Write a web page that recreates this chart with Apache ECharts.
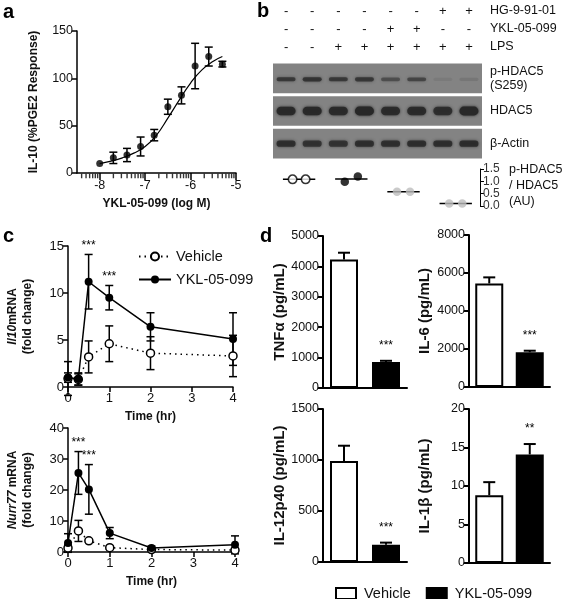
<!DOCTYPE html>
<html><head><meta charset="utf-8">
<script src="https://cdn.jsdelivr.net/npm/echarts@6/dist/echarts.min.js"></script>
<style>html,body{margin:0;padding:0;background:#fff}#c{width:575px;height:599px}</style>
</head><body><div id="c"></div>
<script>
// ---------- Panel a ----------
const aLogConc = [-8, -7.7, -7.4, -7.1, -6.8, -6.5, -6.2, -5.9, -5.6, -5.3];
const aIL10    = [10, 16, 19, 28, 40, 70, 82, 113, 123, 115];
const aIL10Err = [0, 6, 7, 10, 6, 8, 9, 24, 10, 3];
const aFitX = [-8, -7.75, -7.5, -7.25, -7, -6.75, -6.5, -6.25, -6, -5.75, -5.5, -5.3];
const aFitY = [10, 12.5, 16, 21, 28, 40, 58, 77, 95, 109, 118, 123];
const aXTicks = [-8, -7, -6, -5];
const aYTicks = [0, 50, 100, 150];

// ---------- Panel b ----------
const bLanes = ['1','2','3','4','5','6','7','8'];
const bTreatments = ['HG-9-91-01', 'YKL-05-099', 'LPS'];
const bHG  = ['-','-','-','-','-','-','+','+'];
const bYKL = ['-','-','-','-','+','+','-','-'];
const bLPS = ['-','-','+','+','+','+','+','+'];
const bBlotRows = ['p-HDAC5\n(S259)', 'HDAC5', 'β-Actin'];
const bPHDAC5 = [0.72, 0.78, 0.72, 0.74, 0.5, 0.58, 0.08, 0.12];
const bHDAC5  = [0.95, 0.95, 0.92, 1.0, 0.9, 0.9, 0.85, 1.0];
const bActin  = [0.85, 0.8, 0.78, 0.85, 0.85, 0.85, 0.85, 0.88];
const bRatio = [[1.08, 1.08], [0.98, 1.2], [0.58, 0.58], [0.1, 0.1]];
const bRatioTicks = [0, 0.5, 1.0, 1.5];

// ---------- Panel c ----------
const cTime = [0, 0.25, 0.5, 1, 2, 4];
const cIl10Veh    = [0.9, 0.8, 3.2, 4.6, 3.6, 3.3];
const cIl10VehErr = [1.8, 0.6, 1.7, 1.9, 1.75, 2.2];
const cIl10YKL    = [1.0, 0.85, 11.2, 9.5, 6.4, 5.1];
const cIl10YKLErr = [0.5, 0.65, 2.9, 1.3, 1.5, 2.8];
const cIl10Sig    = ['', '', '***', '***', '', ''];
const cNurrVeh    = [1.3, 6.8, 3.6, 1.4, 0.8, 0.6];
const cNurrVehErr = [1.0, 3.4, 0.5, 0.5, 0.3, 0.5];
const cNurrYKL    = [2.9, 25.5, 20.2, 6.1, 1.3, 2.3];
const cNurrYKLErr = [3.0, 6.9, 8.0, 1.8, 0.6, 2.9];
const cNurrSig    = ['', '***', '***', '', '', ''];

// ---------- Panel d ----------
const dGroups = ['Vehicle', 'YKL-05-099'];
const dTNF  = [4230, 855],  dTNFErr  = [220, 40];
const dIL6  = [5450, 1830], dIL6Err  = [320, 80];
const dIL12 = [990, 170],   dIL12Err = [150, 20];
const dIL1b = [8.8, 14.1],  dIL1bErr = [1.7, 1.35];
const dSig  = ['***', '***', '***', '**'];

// ================= build =================
const FF = '"Liberation Sans", Arial, Helvetica, sans-serif';
const TXT = '#111';
function merge(a, b) {
  const o = Array.isArray(a) ? a.slice() : Object.assign({}, a);
  for (const k in b) {
    if (b[k] && typeof b[k] === 'object' && !Array.isArray(b[k]) && a[k] && typeof a[k] === 'object' && !Array.isArray(a[k])) o[k] = merge(a[k], b[k]);
    else o[k] = b[k];
  }
  return o;
}
const grid = [], xAxis = [], yAxis = [], series = [];
function addGrid(g) { grid.push(g); return grid.length - 1; }
function addX(o) { xAxis.push(o); return xAxis.length - 1; }
function addY(o) { yAxis.push(o); return yAxis.length - 1; }
const plain = v => String(v);
function baseAxis(gi, lw, fs, extra) {
  return merge({
    gridIndex: gi, splitLine: { show: false },
    axisLine: { show: true, onZero: false, lineStyle: { color: '#000', width: lw } },
    axisTick: { show: true, length: 5, lineStyle: { color: '#000', width: lw } },
    axisLabel: { color: TXT, fontFamily: FF, fontSize: fs, margin: 4, formatter: plain },
    nameLocation: 'middle',
    nameTextStyle: { fontFamily: FF, fontWeight: 'bold', fontSize: 12, color: TXT }
  }, extra || {});
}
function errSeries(xi, yi, pts, labels, opt) {
  opt = opt || {};
  const cap = opt.cap || 4, lw = opt.lw || 1.5, off = opt.off || 10, fs = opt.fs || 12;
  return {
    type: 'custom', xAxisIndex: xi, yAxisIndex: yi, silent: true, z: opt.z || 2,
    data: pts,
    renderItem: function (params, api) {
      const x = api.value(0), y = api.value(1), up = api.value(2), dn = api.value(3);
      const p = api.coord([x, y]), t = api.coord([x, y + up]), b = api.coord([x, y - dn]);
      const st = { stroke: '#000', lineWidth: lw };
      const ch = [];
      if (up > 0) {
        ch.push({ type: 'line', shape: { x1: p[0], y1: p[1], x2: t[0], y2: t[1] }, style: st });
        ch.push({ type: 'line', shape: { x1: t[0] - cap, y1: t[1], x2: t[0] + cap, y2: t[1] }, style: st });
      }
      if (dn > 0) {
        ch.push({ type: 'line', shape: { x1: p[0], y1: p[1], x2: b[0], y2: b[1] }, style: st });
        ch.push({ type: 'line', shape: { x1: b[0] - cap, y1: b[1], x2: b[0] + cap, y2: b[1] }, style: st });
      }
      const lbl = labels ? labels[params.dataIndex] : '';
      if (lbl) ch.push({ type: 'text', x: t[0], y: t[1] - off, style: { text: lbl, fontFamily: FF, fontSize: fs, fill: '#000', align: 'center', verticalAlign: 'middle' } });
      return { type: 'group', children: ch };
    }
  };
}

// ---- Panel a ----
const gA = addGrid({ left: 77, top: 31, width: 159, height: 142 });
const minorA = [];
[-9, -8, -7, -6].forEach(d => { for (let k = 2; k <= 9; k++) { const v = d + Math.log10(k); if (v > -8.5 && v < -5) minorA.push(v); } });
const xA = addX(baseAxis(gA, 1.5, 12.5, {
  type: 'value', min: -8.5, max: -5, position: 'bottom',
  axisTick: { length: 7, customValues: aXTicks }, axisLabel: { customValues: aXTicks, margin: 6 },
  name: 'YKL-05-099 (log M)', nameGap: 25
}));
const yA = addY(baseAxis(gA, 1.5, 12.5, {
  type: 'value', min: 0, max: 150, interval: 50,
  name: 'IL-10 (%PGE2 Response)', nameGap: 37
}));
// log-decade minor ticks drawn as thin rect symbols hanging under the axis
series.push({ type: 'scatter', xAxisIndex: xA, yAxisIndex: yA, silent: true, clip: false, z: 6,
  data: minorA.map(v => [v, 0]), symbol: 'rect', symbolSize: [1.4, 4.5], symbolOffset: [0, 3],
  itemStyle: { color: '#000' } });
series.push(errSeries(xA, yA, aLogConc.map((x, i) => [x, aIL10[i], aIL10Err[i], aIL10Err[i]]), null, { cap: 4, lw: 1.5 }));
series.push({ type: 'scatter', xAxisIndex: xA, yAxisIndex: yA, data: aLogConc.map((x, i) => [x, aIL10[i]]), symbolSize: 7, itemStyle: { color: '#000' }, z: 4, silent: true });
series.push({ type: 'line', xAxisIndex: xA, yAxisIndex: yA, data: aFitX.map((x, i) => [x, aFitY[i]]), smooth: true, showSymbol: false, lineStyle: { color: '#000', width: 1.2 }, z: 3, silent: true });

// ---- Panel b: treatment table ----
const gB0 = addGrid({ left: 273, top: 2, width: 209, height: 54 });
const xB0 = addX({ type: 'category', gridIndex: gB0, data: bLanes, show: false });
const yB0 = addY({ type: 'category', gridIndex: gB0, data: bTreatments, inverse: true, position: 'right',
  axisLine: { show: false }, axisTick: { show: false }, axisLabel: { color: TXT, fontFamily: FF, fontSize: 12.5, margin: 8 } });
const signRows = [bHG, bYKL, bLPS];
const signData = []; signRows.forEach((row, r) => row.forEach((s, l) => signData.push([l, r])));
series.push({ type: 'custom', xAxisIndex: xB0, yAxisIndex: yB0, silent: true, data: signData,
  renderItem: function (params, api) {
    const l = api.value(0), r = api.value(1); const c = api.coord([l, r]);
    return { type: 'text', x: c[0], y: c[1], style: { text: signRows[r][l], fontFamily: FF, fontSize: 13, fill: TXT, align: 'center', verticalAlign: 'middle' } };
  } });

// ---- Panel b: blot ----
const gB1 = addGrid({ left: 273, top: 62, width: 209, height: 98 });
const xB1 = addX({ type: 'category', gridIndex: gB1, data: bLanes, show: false });
const yB1 = addY({ type: 'category', gridIndex: gB1, data: bBlotRows, inverse: true, position: 'right',
  axisLine: { show: false }, axisTick: { show: false }, axisLabel: { color: TXT, fontFamily: FF, fontSize: 12.5, margin: 8, lineHeight: 14, align: 'left' } });
series.push({ type: 'custom', xAxisIndex: xB1, yAxisIndex: yB1, silent: true, z: 1, data: bBlotRows.map((_, r) => [0, r]),
  renderItem: function (params, api) {
    const c = api.coord([0, api.value(1)]); const h = api.size([1, 1])[1]; const cs = params.coordSys;
    return { type: 'rect', shape: { x: cs.x, y: c[1] - h / 2 + 1.5, width: cs.width, height: h - 3 }, style: { fill: '#838383' } };
  } });
const bandRows = [bPHDAC5, bHDAC5, bActin];
const bandThick = [4, 8, 6];
const bandData = []; bandRows.forEach((row, r) => row.forEach((v, l) => bandData.push([l, r, v])));
series.push({ type: 'custom', xAxisIndex: xB1, yAxisIndex: yB1, silent: true, z: 2, data: bandData,
  renderItem: function (params, api) {
    const l = api.value(0), r = api.value(1), v = api.value(2); const c = api.coord([l, r]);
    const th = bandThick[r] * (0.8 + 0.3 * v), w = 19;
    const col = 'rgba(40,40,40,' + v + ')';
    return { type: 'rect', shape: { x: c[0] - w / 2, y: c[1] - th / 2 + (r === 0 ? 1 : 0), width: w, height: th, r: th / 2 },
      style: { fill: col, shadowBlur: 3, shadowColor: col } };
  } });

// ---- Panel b: quantification ----
const gB2 = addGrid({ left: 273, top: 169, width: 207, height: 37 });
const xB2 = addX({ type: 'value', gridIndex: gB2, min: -0.5, max: 7.43, show: false });
const yB2 = addY(baseAxis(gB2, 1, 12, { type: 'value', min: 0, max: 1.5, interval: 0.5, position: 'right',
  axisTick: { length: 4 }, axisLabel: { formatter: v => v.toFixed(1), margin: 3, color: '#333', fontSize: 12 } }));
const qStyles = [
  { color: '#fff', borderColor: '#000', borderWidth: 1.5 },
  { color: '#000' },
  { color: '#bdbdbd' },
  { color: '#bdbdbd' }
];
bRatio.forEach((vals, g) => {
  const c = 2 * g + 0.5;
  const mean = vals.reduce((s, v) => s + v, 0) / vals.length;
  series.push({ type: 'line', xAxisIndex: xB2, yAxisIndex: yB2, data: [[c - 0.62, mean], [c + 0.62, mean]], showSymbol: false, lineStyle: { color: '#000', width: 1.5 }, z: 2, silent: true });
  series.push({ type: 'scatter', xAxisIndex: xB2, yAxisIndex: yB2, data: [[c - 0.25, vals[0]], [c + 0.25, vals[1]]], symbolSize: 8.5, itemStyle: qStyles[g], z: 3, silent: true });
});

// ---- Panel c ----
function cPanel(grid0, yMax, yInt, yName, veh, vehErr, ykl, yklErr, sig) {
  const gi = addGrid(grid0);
  const xi = addX(baseAxis(gi, 1.5, 13, { type: 'value', min: 0, max: 4, interval: 1, name: 'Time (hr)', nameGap: 24, axisLabel: { margin: 5 } }));
  const yi = addY(baseAxis(gi, 1.5, 13, { type: 'value', min: 0, max: yMax, interval: yInt, name: yName, nameGap: 33,
    nameTextStyle: { lineHeight: 15, rich: { i: { fontStyle: 'italic', fontWeight: 'bold', fontFamily: FF, fontSize: 12 } } } }));
  series.push(errSeries(xi, yi, cTime.map((t, i) => [t, veh[i], vehErr[i], vehErr[i]]), null, { cap: 4, lw: 1.5, z: 2 }));
  series.push(errSeries(xi, yi, cTime.map((t, i) => [t, ykl[i], yklErr[i], yklErr[i]]), sig, { cap: 4, lw: 1.5, z: 2, off: 9, fs: 12 }));
  series.push({ type: 'line', name: 'Vehicle ', xAxisIndex: xi, yAxisIndex: yi, data: cTime.map((t, i) => [t, veh[i]]), symbol: 'circle', symbolSize: 8, showSymbol: true, clip: false,
    lineStyle: { color: '#000', width: 1.5, type: [1.5, 4] }, itemStyle: { color: '#fff', borderColor: '#000', borderWidth: 1.5 }, z: 4, silent: true });
  series.push({ type: 'line', name: 'YKL-05-099 ', xAxisIndex: xi, yAxisIndex: yi, data: cTime.map((t, i) => [t, ykl[i]]), symbol: 'circle', symbolSize: 8, showSymbol: true, clip: false,
    lineStyle: { color: '#000', width: 1.5 }, itemStyle: { color: '#000' }, z: 5, silent: true });
}
cPanel({ left: 68, top: 246, width: 165, height: 141 }, 15, 5, '{i|Il10}mRNA\n(fold change)', cIl10Veh, cIl10VehErr, cIl10YKL, cIl10YKLErr, cIl10Sig);
cPanel({ left: 68, top: 428, width: 167, height: 124 }, 40, 10, '{i|Nurr77} mRNA\n(fold change)', cNurrVeh, cNurrVehErr, cNurrYKL, cNurrYKLErr, cNurrSig);

// ---- Panel d ----
function dPanel(grid0, yMax, yInt, yName, gap, vals, errs, sig) {
  const gi = addGrid(grid0);
  const xi = addX(baseAxis(gi, 2, 12.5, { type: 'category', data: dGroups, axisTick: { show: false }, axisLabel: { show: false } }));
  const yi = addY(baseAxis(gi, 2, 12.5, { type: 'value', min: 0, max: yMax, interval: yInt, name: yName, nameGap: gap,
    axisTick: { length: 5 }, axisLabel: { margin: 4 }, nameTextStyle: { fontSize: 15 } }));
  series.push({ type: 'bar', name: dGroups[0], xAxisIndex: xi, yAxisIndex: yi, data: [vals[0], '-'], barWidth: 28, barGap: '-100%',
    itemStyle: { color: '#fff', borderColor: '#000', borderWidth: 2 }, z: 2, silent: true });
  series.push({ type: 'bar', name: dGroups[1], xAxisIndex: xi, yAxisIndex: yi, data: ['-', vals[1]], barWidth: 28, barGap: '-100%',
    itemStyle: { color: '#000', borderColor: '#000', borderWidth: 2 }, z: 2, silent: true });
  series.push(errSeries(xi, yi, [[0, vals[0], errs[0], 0], [1, vals[1], errs[1], 0]], ['', sig], { cap: 6, lw: 2, z: 3, off: 15, fs: 12 }));
}
dPanel({ left: 323, top: 236, width: 84, height: 152 }, 5000, 1000, 'TNFα (pg/mL)', 36, dTNF, dTNFErr, dSig[0]);
dPanel({ left: 469, top: 235, width: 81, height: 152 }, 8000, 2000, 'IL-6 (pg/mL)', 37, dIL6, dIL6Err, dSig[1]);
dPanel({ left: 323, top: 409, width: 84, height: 153 }, 1500, 500, 'IL-12p40 (pg/mL)', 36, dIL12, dIL12Err, dSig[2]);
dPanel({ left: 469, top: 409, width: 81, height: 154 }, 20, 5, 'IL-1β (pg/mL)', 37, dIL1b, dIL1bErr, dSig[3]);

const letter = (t, x, y) => ({ type: 'text', left: x, top: y, style: { text: t, fontFamily: FF, fontWeight: 'bold', fontSize: 20, fill: '#000' } });

const option = {
  animation: false,
  backgroundColor: '#fff',
  grid, xAxis, yAxis, series,
  legend: [
    { data: ['Vehicle ', 'YKL-05-099 '], orient: 'vertical', left: 133, top: 244, itemWidth: 32, itemHeight: 10, itemGap: 8,
      textStyle: { fontFamily: FF, fontSize: 14.5, color: TXT }, selectedMode: false },
    { data: dGroups, orient: 'horizontal', left: 330, top: 581, icon: 'rect', itemWidth: 20, itemHeight: 11, itemGap: 15,
      textStyle: { fontFamily: FF, fontSize: 14.5, color: TXT, padding: [0, 0, 0, 3] }, selectedMode: false }
  ],
  graphic: [
    letter('a', 3, 2), letter('b', 257, 1), letter('c', 3, 226), letter('d', 260, 226),
    { type: 'text', left: 509, top: 162, style: { text: 'p-HDAC5\n/ HDAC5\n(AU)', fontFamily: FF, fontSize: 12.5, lineHeight: 16, fill: TXT } }
  ]
};
const chart = echarts.init(document.getElementById('c'));
chart.setOption(option);
</script>
</body></html>
